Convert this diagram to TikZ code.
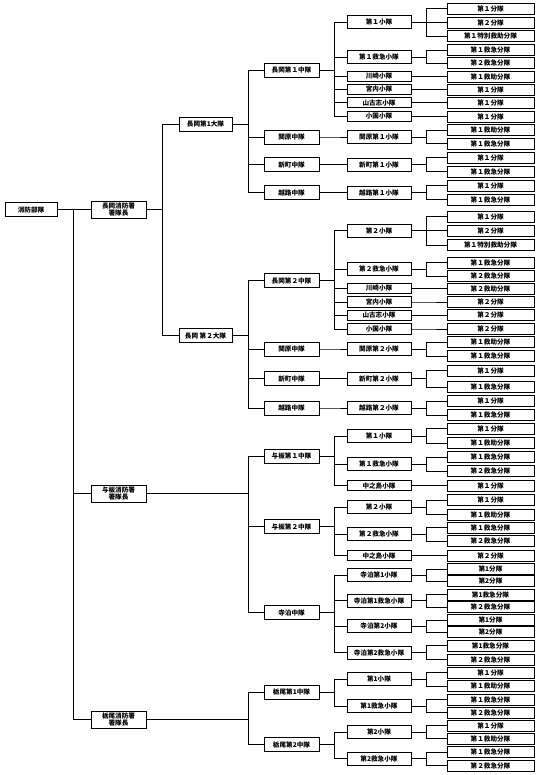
\documentclass[tikz,border=0pt]{standalone}
\usepackage{fontspec}
\setmainfont{Noto Sans CJK JP}
\begin{document}
\begin{tikzpicture}[x=1pt,y=-1pt,
  box/.style={draw,line width=0.9pt,fill=white,inner sep=0pt,align=center,
    font=\fontsize{6.6}{7.2}\selectfont\bfseries},
  rootbox/.style={box,minimum width=52pt,minimum height=14pt},
  lvtwo/.style={box,minimum width=55pt,minimum height=17pt},
  lvthree/.style={box,minimum width=53pt,minimum height=14pt},
  lvfour/.style={box,minimum width=55pt,minimum height=14pt},
  lvfive/.style={box,minimum width=64pt,minimum height=13pt},
  lvfivesingle/.style={box,minimum width=64pt,minimum height=10.5pt},
  lvsix/.style={box,minimum width=87pt,minimum height=11pt},
  conn/.style={line width=0.8pt}]
\fill[white] (0,0) rectangle (538,775);
\useasboundingbox (0,0) rectangle (538,775);
% ---------- leaves
\foreach \n/\y/\t in {
 f1/8.5/第１分隊, f2/22.5/第２分隊, f3/36/第１特別救助分隊, f4/50/第１救急分隊,
 f5/63/第２救急分隊, f6/76.5/第１救助分隊, f7/89.5/第１分隊, f8/102.5/第１分隊,
 f9/116.5/第１分隊, f10/130/第１救助分隊, f11/143.5/第１救急分隊, f12/157.5/第１分隊,
 f13/171.5/第１救急分隊, f14/185.5/第１分隊, f15/199.5/第１救急分隊, f16/216.5/第１分隊,
 f17/230.5/第２分隊, f18/245/第１特別救助分隊, f19/262.5/第１救急分隊, f20/276/第２救急分隊,
 f21/288.5/第２救助分隊, f22/302/第２分隊, f23/315.3/第２分隊, f24/329/第２分隊,
 f25/342.3/第１救助分隊, f26/356/第１救急分隊, f27/370.5/第１分隊, f28/387/第１救急分隊,
 f29/401/第１分隊, f30/415.3/第１救急分隊, f31/428.8/第１分隊, f32/443/第１救助分隊,
 f33/457/第１救急分隊, f34/471/第２救急分隊, f35/485.5/第１分隊, f36/500/第１分隊,
 f37/514.5/第１救助分隊, f38/527.8/第１救急分隊, f39/541/第２救急分隊, f40/555.5/第２分隊,
 f41/569/第1分隊, f42/581/第2分隊, f43/594.5/第1救急分隊, f44/607/第２救急分隊,
 f45/620/第1分隊, f46/632/第2分隊, f47/645.5/第1救急分隊, f48/659.7/第２救急分隊,
 f49/672.5/第１分隊, f50/686/第１救助分隊, f51/699.5/第１救急分隊, f52/712.5/第２救急分隊,
 f53/725.5/第１分隊, f54/738.8/第１救助分隊, f55/752.2/第１救急分隊, f56/765.5/第２救急分隊}
 {\node[lvsix] (\n) at (490.5,\y) {\t};}
% ---------- platoons (multi)
\foreach \n/\y/\t in {
 s1/22/第１小隊, s2/57/第１救急小隊, s7/137/関原第１小隊, s8/164.5/新町第１小隊,
 s9/192.5/越路第１小隊, s10/230.5/第２小隊, s11/269/第２救急小隊, s16/349/関原第２小隊,
 s17/378.7/新町第２小隊, s18/408/越路第２小隊, s19/436/第１小隊, s20/464/第１救急小隊,
 s22/507/第２小隊, s23/534.4/第２救急小隊, s25/575/寺泊第1小隊, s26/600.8/寺泊第1救急小隊,
 s27/626/寺泊第2小隊, s28/652.6/寺泊第2救急小隊, s29/679/第1小隊, s30/706/第1救急小隊,
 s31/732/第2小隊, s32/758.8/第2救急小隊}
 {\node[lvfive] (\n) at (379,\y) {\t};}
% ---------- platoons (single)
\foreach \n/\y/\t in {
 s3/76.5/川崎小隊, s4/89.5/宮内小隊, s5/102.5/山古志小隊, s6/116.5/小国小隊,
 s12/288.5/川崎小隊, s13/302/宮内小隊, s14/315.3/山古志小隊, s15/329/小国小隊,
 s21/485.5/中之島小隊, s24/555.5/中之島小隊}
 {\node[lvfivesingle] (\n) at (379,\y) {\t};}
% ---------- companies
\foreach \n/\y/\t in {
 c1/70/長岡第１中隊, c2/137/関原中隊, c3/164.5/新町中隊, c4/192.5/越路中隊,
 c5/280.5/長岡第２中隊, c6/349/関原中隊, c7/378.7/新町中隊, c8/408/越路中隊,
 c9/456/与板第１中隊, c10/526.5/与板第２中隊, c11/612.5/寺泊中隊,
 c12/692/栃尾第1中隊, c13/744.5/栃尾第2中隊}
 {\node[lvfour] (\n) at (291.5,\y) {\t};}
% ---------- battalions
\node[lvthree] (d1) at (205.5,124) {長岡第1大隊};
\node[lvthree] (d2) at (205.5,335.5) {長岡 第２大隊};
% ---------- stations
\node[lvtwo] (b1) at (118.5,209.5) {長岡消防署\\署隊長};
\node[lvtwo] (b2) at (118.5,493.5) {与板消防署\\署隊長};
\node[lvtwo] (b3) at (118.5,719.5) {栃尾消防署\\署隊長};
% ---------- root
\node[rootbox] (r) at (31,209.5) {消防部隊};
% ---------- connectors
\newcommand\treeconn[3]{\foreach \c in {#3}{\draw[conn] (#1.east) -- ++(#2,0) |- (\c.west);}}
\treeconn{r}{16}{b1,b2,b3}
\treeconn{b1}{16}{d1,d2}
\treeconn{b2}{102}{c9,c10,c11}
\treeconn{b3}{102}{c12,c13}
\treeconn{d1}{16}{c1,c2,c3,c4}
\treeconn{d2}{16}{c5,c6,c7,c8}
\treeconn{c1}{15}{s1,s2,s3,s4,s5,s6}
\treeconn{c2}{15}{s7}
\treeconn{c3}{15}{s8}
\treeconn{c4}{15}{s9}
\treeconn{c5}{15}{s10,s11,s12,s13,s14,s15}
\treeconn{c6}{15}{s16}
\treeconn{c7}{15}{s17}
\treeconn{c8}{15}{s18}
\treeconn{c9}{15}{s19,s20,s21}
\treeconn{c10}{15}{s22,s23,s24}
\treeconn{c11}{15}{s25,s26,s27,s28}
\treeconn{c12}{15}{s29,s30}
\treeconn{c13}{15}{s31,s32}
\treeconn{s1}{15}{f1,f2,f3}
\treeconn{s2}{15}{f4,f5}
\treeconn{s3}{15}{f6}
\treeconn{s4}{15}{f7}
\treeconn{s5}{15}{f8}
\treeconn{s6}{15}{f9}
\treeconn{s7}{15}{f10,f11}
\treeconn{s8}{15}{f12,f13}
\treeconn{s9}{15}{f14,f15}
\treeconn{s10}{15}{f16,f17,f18}
\treeconn{s11}{15}{f19,f20}
\treeconn{s12}{15}{f21}
\treeconn{s13}{15}{f22}
\treeconn{s14}{15}{f23}
\treeconn{s15}{15}{f24}
\treeconn{s16}{15}{f25,f26}
\treeconn{s17}{15}{f27,f28}
\treeconn{s18}{15}{f29,f30}
\treeconn{s19}{15}{f31,f32}
\treeconn{s20}{15}{f33,f34}
\treeconn{s21}{15}{f35}
\treeconn{s22}{15}{f36,f37}
\treeconn{s23}{15}{f38,f39}
\treeconn{s24}{15}{f40}
\treeconn{s25}{15}{f41,f42}
\treeconn{s26}{15}{f43,f44}
\treeconn{s27}{15}{f45,f46}
\treeconn{s28}{15}{f47,f48}
\treeconn{s29}{15}{f49,f50}
\treeconn{s30}{15}{f51,f52}
\treeconn{s31}{15}{f53,f54}
\treeconn{s32}{15}{f55,f56}
\end{tikzpicture}
\end{document}
